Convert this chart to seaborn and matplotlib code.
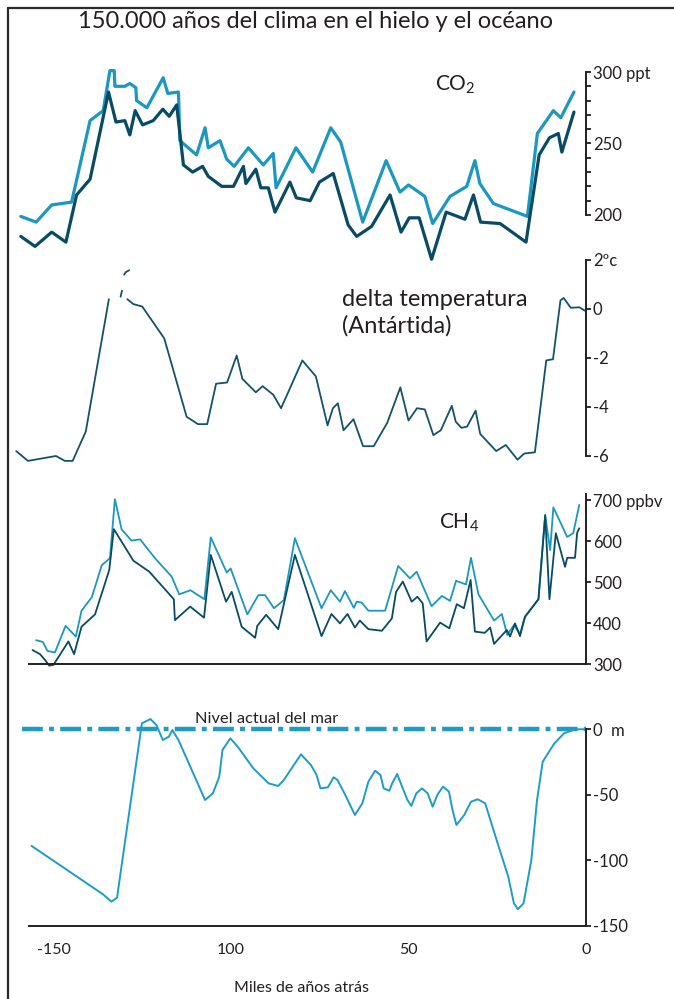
import seaborn as sns
import matplotlib.pyplot as plt
from matplotlib.lines import Line2D
from matplotlib.ticker import FixedLocator, MultipleLocator

# ---- data (miles de años atrás) ----
co2_light_kyr = [159.2, 154.9, 150.5, 144.9, 139.7, 136.0, 134.1, 132.9, 132.7, 129.9, 128.5, 126.8,
                 126.6, 123.7, 119.1, 117.8, 114.8, 114.4, 109.7, 107.3, 106.4, 103.1, 101.2, 99.1,
                 95.1, 90.9, 88.1, 87.3, 81.7, 77.0, 71.9, 69.1, 62.9, 56.3, 52.4, 50.0, 45.4, 43.2,
                 38.3, 33.6, 31.3, 29.9, 26.1, 16.5, 13.7, 9.2, 7.1, 3.4]
co2_light = [199, 195, 207, 209, 266, 273, 301, 301, 290, 290, 292, 289,
             280, 275, 296, 285, 286, 252, 242, 261, 247, 252, 239, 234,
             247, 235, 243, 219, 247, 230, 261, 251, 195, 238, 216, 221, 213, 194,
             213, 220, 238, 222, 208, 199, 257, 273, 268, 286]

co2_dark_kyr = [159.2, 155.2, 150.5, 146.5, 143.5, 139.7, 134.5, 132.4, 129.9, 128.5, 127.0, 124.9,
                121.9, 119.2, 117.4, 115.3, 113.4, 110.8, 108.0, 106.4, 102.6, 99.3, 96.5, 95.8,
                93.0, 91.6, 89.5, 87.6, 83.4, 81.6, 77.7, 75.1, 71.2, 67.0, 64.6, 60.4, 55.2, 52.1,
                49.8, 47.0, 43.5, 39.4, 34.1, 31.7, 29.7, 24.2, 16.9, 13.2, 10.3, 7.8, 6.8, 3.4]
co2_dark = [185, 178, 188, 181, 214, 225, 286, 265, 266, 256, 273, 263,
            266, 274, 269, 277, 235, 230, 234, 227, 220, 220, 234, 222,
            232, 219, 219, 202, 223, 212, 210, 223, 229, 193, 185, 192, 214, 188,
            198, 198, 169, 202, 197, 214, 195, 194, 181, 242, 254, 257, 244, 272]

temp_a_kyr = [160.5, 157.2, 149.3, 146.8, 144.6, 140.9, 134.4]
temp_a = [-5.8, -6.2, -6.0, -6.2, -6.2, -5.0, 0.4]
temp_b_kyr = [131.1, 130.7]
temp_b = [0.5, 0.75]
temp_c_kyr = [130.1, 129.7, 128.7]
temp_c = [1.4, 1.5, 1.58]
temp_d_kyr = [129.2, 127.5, 125.0, 118.8, 112.5, 109.3, 106.7, 104.2, 101.1, 98.4, 96.8, 93.0,
              91.1, 88.1, 85.9, 79.9, 76.1, 72.8, 71.3, 69.9, 68.3, 65.5, 62.8, 59.8, 56.0, 52.3,
              50.0, 47.6, 45.4, 43.0, 40.9, 37.8, 36.7, 35.1, 33.5, 31.1, 29.8, 25.3, 22.6, 19.3,
              17.4, 14.4, 11.2, 9.3, 7.2, 6.3, 4.3, 1.9, 0.3]
temp_d = [0.4, 0.2, 0.1, -1.2, -4.4, -4.7, -4.7, -3.05, -3.0, -1.9, -2.85, -3.4,
          -3.15, -3.5, -4.05, -2.1, -2.75, -4.75, -4.05, -3.85, -4.95, -4.5, -5.6, -5.6, -4.65, -3.2,
          -4.55, -4.05, -4.1, -5.15, -4.95, -3.95, -4.6, -4.85, -4.8, -4.15, -5.1, -5.8, -5.55, -6.15,
          -5.9, -5.85, -2.1, -2.05, 0.35, 0.45, 0.05, 0.07, -0.07]

ch4_light_kyr = [154.9, 153.0, 151.7, 149.6, 146.6, 143.7, 142.1, 139.2, 136.4, 134.1, 132.7, 130.8,
                 128.0, 125.6, 121.4, 116.7, 114.6, 111.4, 107.5, 105.7, 101.2, 100.1, 95.4, 92.3,
                 90.4, 87.9, 85.1, 82.0, 74.5, 71.9, 69.3, 67.9, 65.4, 64.6, 63.2, 61.3, 56.6, 52.9,
                 49.6, 47.7, 43.5, 40.6, 38.3, 36.6, 33.8, 32.4, 30.3, 25.9, 23.7, 22.2, 20.3, 18.6,
                 17.2, 13.4, 11.5, 10.1, 9.2, 5.3, 3.6, 1.9]
ch4_light = [358, 354, 332, 328, 393, 367, 430, 463, 541, 558, 702, 628,
             601, 604, 558, 513, 470, 480, 458, 609, 523, 533, 421, 468,
             468, 436, 456, 607, 436, 480, 452, 478, 437, 452, 450, 430, 430, 539,
             509, 525, 441, 466, 454, 503, 494, 559, 470, 406, 422, 371, 395, 373,
             415, 458, 663, 578, 682, 610, 619, 688]

ch4_dark_kyr = [155.9, 153.8, 152.4, 151.2, 150.0, 145.8, 144.2, 142.1, 138.3, 134.3, 133.0, 127.5,
                123.0, 116.1, 115.8, 111.5, 107.6, 105.7, 101.4, 99.8, 97.0, 93.2, 92.6, 90.1,
                86.7, 82.0, 74.5, 71.7, 69.3, 67.2, 65.1, 63.7, 61.3, 57.5, 54.7, 53.5, 51.6, 49.1,
                47.5, 46.0, 44.9, 41.1, 38.5, 36.4, 34.4, 32.5, 31.3, 28.5, 27.0, 25.9, 22.3, 21.4,
                20.0, 18.6, 17.2, 13.4, 11.5, 10.3, 8.5, 5.9, 5.3, 3.1, 2.5, 1.9]
ch4_dark = [334, 324, 310, 296, 298, 355, 324, 391, 421, 529, 629, 552,
            525, 458, 407, 440, 413, 566, 452, 476, 391, 364, 393, 420,
            385, 566, 368, 422, 399, 422, 389, 406, 385, 381, 411, 476, 501, 452,
            464, 448, 355, 401, 387, 446, 436, 505, 379, 376, 389, 349, 383, 367,
            399, 368, 415, 458, 663, 458, 619, 537, 559, 559, 620, 631]

sea_kyr = [156.2, 136.0, 133.7, 132.1, 125.1, 122.7, 121.0, 119.2, 117.5, 116.5, 114.8, 107.3, 105.1,
           103.3, 102.4, 100.2, 98.1, 93.7, 89.4, 86.7, 85.1, 80.3, 77.5, 75.9, 74.8, 72.7,
           71.1, 70.0, 67.8, 65.1, 63.0, 61.3, 59.4, 57.9, 57.0, 55.4, 54.6, 53.2, 51.8, 50.3,
           49.2, 47.8, 46.2, 44.6, 43.2, 41.9, 40.3, 38.6, 37.6, 36.5, 34.3, 32.4, 30.5, 28.4,
           24.6, 21.9, 20.3, 19.2, 17.6, 15.4, 13.8, 12.2, 8.9, 6.2, 3.0, 0.3]
sea = [-89, -126, -131.5, -128.5, 4.3, 7.6, 3.0, -8.4, -5.8, -0.8, -8.4, -54.1, -49,
       -36.3, -16, -7.1, -13.5, -30, -41.4, -43.4, -38.8, -19.3, -27.4, -35, -45.2, -44.4,
       -36.8, -38.8, -50.3, -65.5, -56.6, -40.1, -31.8, -35, -45.2, -47, -41.4, -34.3, -43.9, -54.1,
       -58.6, -49, -45.2, -49, -59.2, -50.3, -43.9, -47.7, -61.7, -73.1, -65.5, -55.4, -53.5, -56.6,
       -89.6, -112.5, -132.8, -137.3, -132.8, -99.8, -54.1, -24.9, -10.9, -3.3, -0.2, -0.2]
sea_now_kyr = [158.9, 0.0]
sea_now = [0, 0]

x_ticks = [150, 100, 50, 0]
x_tick_labels = ["-150", "100", "50", "0"]

# ---- style ----
sns.set_style("white")
plt.rcParams['font.family'] = ['Lato', 'DejaVu Sans']
plt.rcParams['mathtext.fontset'] = 'custom'
plt.rcParams['mathtext.rm'] = 'Lato'
plt.rcParams['lines.scale_dashes'] = False

LIGHT = "#1c97c0"
DARK = "#0a4b64"
TEMP = "#13526a"
SEA = "#1e9cc8"
INK = "#231f20"

W, H = 674, 999
XL, XR = 162.25, -3.94
fig = plt.figure(figsize=(W / 100, H / 100), dpi=100)


def panel(top, bottom, ylim, bounds, ticks, labels):
    ax = fig.add_axes([10 / W, 1 - bottom / H, 590 / W, (bottom - top) / H])
    ax.set_facecolor('none')
    ax.set_xlim(XL, XR)
    ax.set_ylim(*ylim)
    for s in ['top', 'left', 'bottom']:
        ax.spines[s].set_visible(False)
    sp = ax.spines['right']
    sp.set_position(('data', 0))
    sp.set_bounds(*bounds)
    sp.set_color(INK)
    sp.set_linewidth(1.4)
    ax.yaxis.tick_right()
    ax.set_yticks(ticks)
    ax.set_yticklabels(labels)
    ax.tick_params(axis='y', which='both', direction='out', length=3.5, width=1.3,
                   colors=INK, labelsize=12, pad=1.5)
    ax.set_xticks([])
    return ax


def bottom_axis(ax, ybase, labels):
    sp = ax.spines['bottom']
    sp.set_visible(True)
    sp.set_position(('data', ybase))
    sp.set_bounds(157, 0)
    sp.set_color(INK)
    sp.set_linewidth(1.4)
    ax.xaxis.set_major_locator(FixedLocator(x_ticks))
    ax.xaxis.set_minor_locator(MultipleLocator(10))
    ax.set_xticklabels(x_tick_labels if labels else [""] * len(x_ticks))
    ax.tick_params(axis='x', which='both', direction='out', length=6, width=1.3,
                   colors=INK, labelsize=11.5, pad=6)


def line(ax, x, y, color, lw, **kw):
    sns.lineplot(x=x, y=y, ax=ax, color=color, linewidth=lw, sort=False,
                 estimator=None, legend=False, **kw)
    ax.set_xlabel('')
    ax.set_ylabel('')


# CO2
ax1 = panel(40, 262, (167.1, 322.4), (200, 300), [200, 250, 300], ["200", "250", "300 ppt"])
ax1.yaxis.set_minor_locator(FixedLocator([210, 220, 230, 240, 260, 270, 280, 290]))
line(ax1, co2_light_kyr, co2_light, LIGHT, 2.3)
line(ax1, co2_dark_kyr, co2_dark, DARK, 2.3)
ax1.text(42.5, 291, "CO$_\\mathrm{2}$", fontsize=15, color=INK, ha='left', va='center')

# temperatura
ax2 = panel(255, 475, (-6.776, 2.204), (-6, 2), [-6, -4, -2, 0, 2], ["-6", "-4", "-2", "0", "2ºc"])
for kx, ky in [(temp_a_kyr, temp_a), (temp_b_kyr, temp_b), (temp_c_kyr, temp_c), (temp_d_kyr, temp_d)]:
    line(ax2, kx, ky, TEMP, 1.3)
ax2.text(68.7, -0.15, "delta temperatura\n(Antártida)", fontsize=17, color=INK,
         ha='left', va='center', linespacing=1.3)

# CH4
ax3 = panel(480, 672, (280.5, 748.8), (300, 715), [300, 400, 500, 600, 700],
            ["300", "400", "500", "600", "700 ppbv"])
line(ax3, ch4_light_kyr, ch4_light, LIGHT, 1.3)
line(ax3, ch4_dark_kyr, ch4_dark, DARK, 1.3)
bottom_axis(ax3, 300, False)
ax3.text(41.5, 645, "CH$_\\mathrm{4}$", fontsize=15, color=INK, ha='left', va='center')

# nivel del mar
ax4 = panel(700, 935, (-156.9, 22.1), (-150, 0), [0, -50, -100, -150], ["0  m", "-50", "-100", "-150"])
line(ax4, sea_kyr, sea, SEA, 1.4)
now = ax4.plot(sea_now_kyr, sea_now, color=SEA, linewidth=3.2, solid_capstyle='butt')[0]
now.set_dashes([15, 4.5, 3.5, 4.5])
bottom_axis(ax4, -150, True)
ax4.text(110, 7.5, "Nivel actual del mar", fontsize=11.8, color=INK, ha='left', va='center')

# titulos y marco
fig.text(316 / W, 1 - 22 / H, "150.000 años del clima en el hielo y el océano", fontsize=17,
         color=INK, ha='center', va='center')
fig.text(301 / W, 1 - 988 / H, "Miles de años atrás", fontsize=11.5, color=INK,
         ha='center', va='center')
fig.add_artist(Line2D([8 / W, 8 / W], [0, 1 - 8 / H], color="#2b2b2b", linewidth=1.6))
fig.add_artist(Line2D([8 / W, 1], [1 - 8 / H, 1 - 8 / H], color="#2b2b2b", linewidth=1.6))

fig.savefig("out.png", dpi=100)
